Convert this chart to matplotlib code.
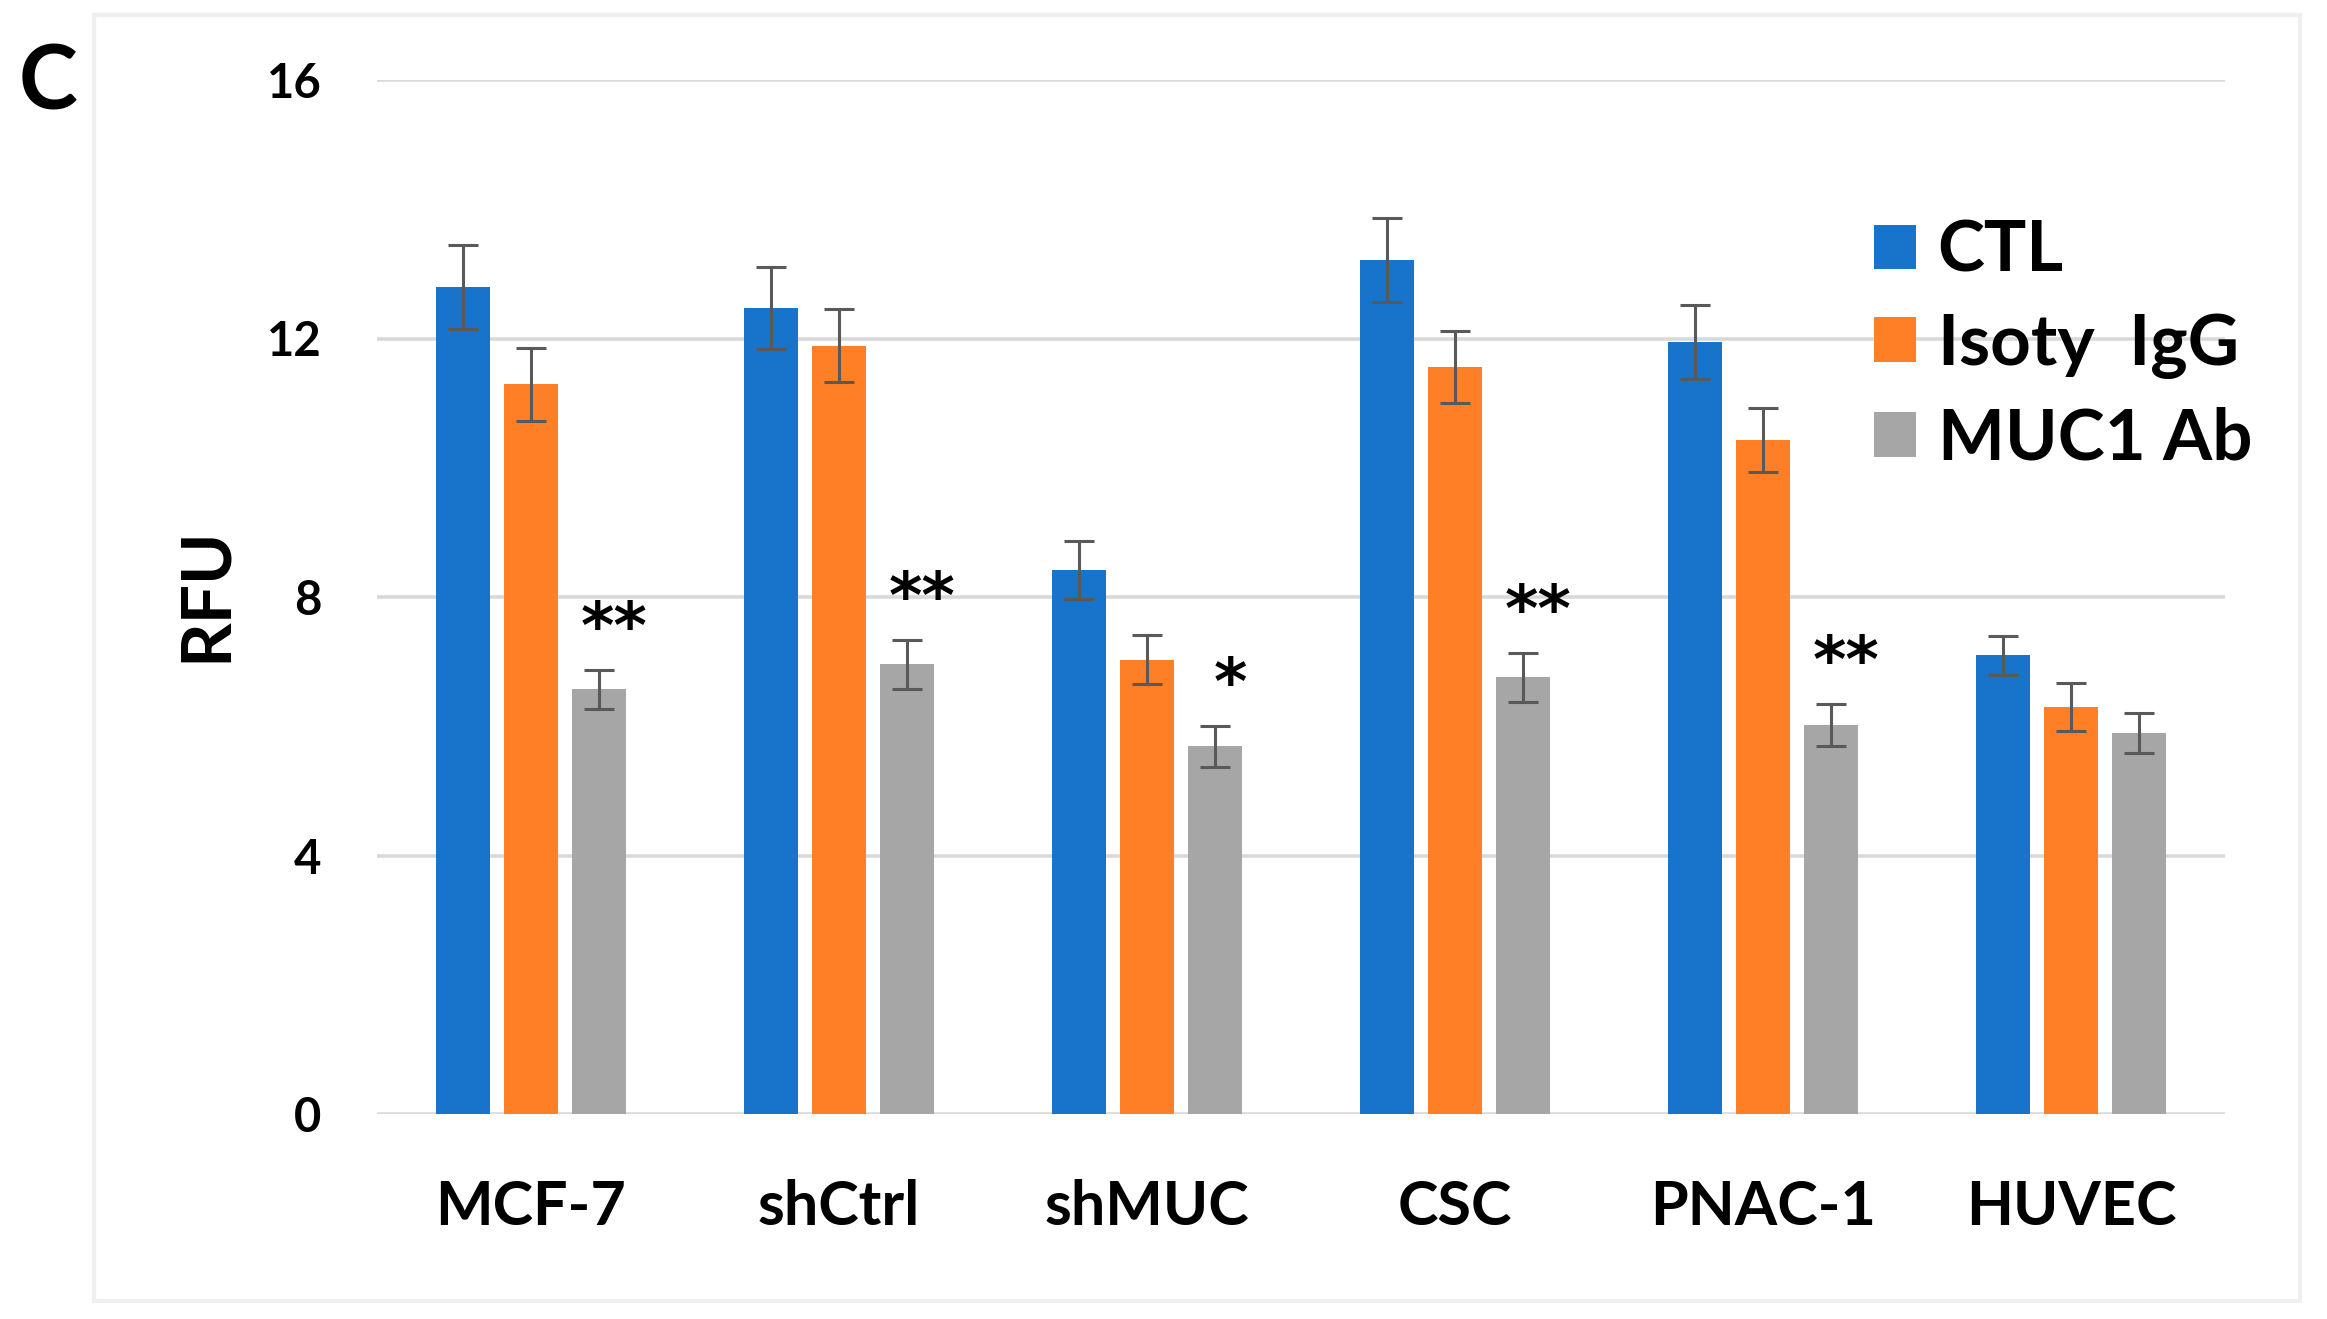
import matplotlib
matplotlib.use("Agg")
import matplotlib.pyplot as plt
import numpy as np
from matplotlib.patches import Rectangle

# values
cells = ["MCF-7", "shCtrl", "shMUC", "CSC", "PNAC-1", "HUVEC"]
series = ["CTL", "Isoty  IgG", "MUC1 Ab"]
ctl = [12.80, 12.47, 8.42, 13.21, 11.95, 7.10]
ctl_err = [0.65, 0.63, 0.45, 0.65, 0.57, 0.30]
igg = [11.29, 11.89, 7.03, 11.56, 10.43, 6.30]
igg_err = [0.57, 0.57, 0.38, 0.56, 0.50, 0.37]
muc = [6.57, 6.96, 5.69, 6.76, 6.02, 5.90]
muc_err = [0.30, 0.38, 0.32, 0.38, 0.33, 0.31]
stars = ["**", "**", "*", "**", "**", ""]
yticks = [0, 4, 8, 12, 16]

colors = ["#1873CA", "#FF7F27", "#A6A6A6"]
W, H = 2327, 1319
plt.rcParams['font.family'] = ['Lato', 'DejaVu Sans']
plt.rcParams['font.weight'] = 'bold'

fig = plt.figure(figsize=(W / 100, H / 100), dpi=100)
ax = fig.add_axes([377 / W, 1 - 1114 / H, (2225 - 377) / W, (1114 - 80) / H])

x = np.arange(len(cells))
bw = 0.175
step = 0.221
bars = []
for i, (vals, errs) in enumerate([(ctl, ctl_err), (igg, igg_err), (muc, muc_err)]):
    b = ax.bar(x + (i - 1) * step, vals, bw, color=colors[i], zorder=3, label=series[i])
    ax.errorbar(x + (i - 1) * step, vals, yerr=errs, fmt='none', ecolor='#595959',
                elinewidth=2.2, capsize=10.5, capthick=2.2, zorder=4)
    bars.append(b)

# significance marks above the antibody bars
for j, s in enumerate(stars):
    if s:
        ax.text(x[j] + step + 0.05, muc[j] + muc_err[j] + 0.62, s,
                ha='center', va='center', fontsize=46, family='DejaVu Sans',
                fontweight='bold', zorder=5)

ax.set_xlim(-0.5, len(cells) - 0.5)
ax.set_ylim(0, 16)
ax.set_yticks(yticks)
ax.set_xticks(x)
ax.set_xticklabels(cells, fontsize=44, fontweight='bold')
ax.tick_params(axis='y', length=0, pad=40, labelsize=34)
ax.tick_params(axis='x', length=0, pad=47)
for lab in ax.get_yticklabels():
    lab.set_fontweight('bold')
ax.grid(axis='y', color='#D9D9D9', linewidth=2.6, zorder=0)
ax.set_axisbelow(True)
for sp in ax.spines.values():
    sp.set_visible(False)

leg = ax.legend(handles=bars, loc='upper left', bbox_to_anchor=(1874 / W, 1 - 219 / H),
                bbox_transform=fig.transFigure, frameon=False, fontsize=51,
                handlelength=0.59, handleheight=0.59, handletextpad=0.31,
                labelspacing=0.39, borderpad=0, borderaxespad=0)
for t in leg.get_texts():
    t.set_fontweight('bold')

fig.text(206 / W, 1 - 594 / H, "RFU", rotation=90, ha='center', va='center',
         fontsize=50, fontweight='bold')
fig.text(48 / W, 1 - 84 / H, "C", ha='center', va='center', fontsize=64, fontweight='bold')

fig.patches.append(Rectangle((94 / W, 1 - 1301 / H), (2300 - 94) / W, (1301 - 15) / H,
                             transform=fig.transFigure, fill=False, edgecolor='#EFEFEF',
                             linewidth=3, zorder=0))

fig.savefig("out.png", dpi=100)
